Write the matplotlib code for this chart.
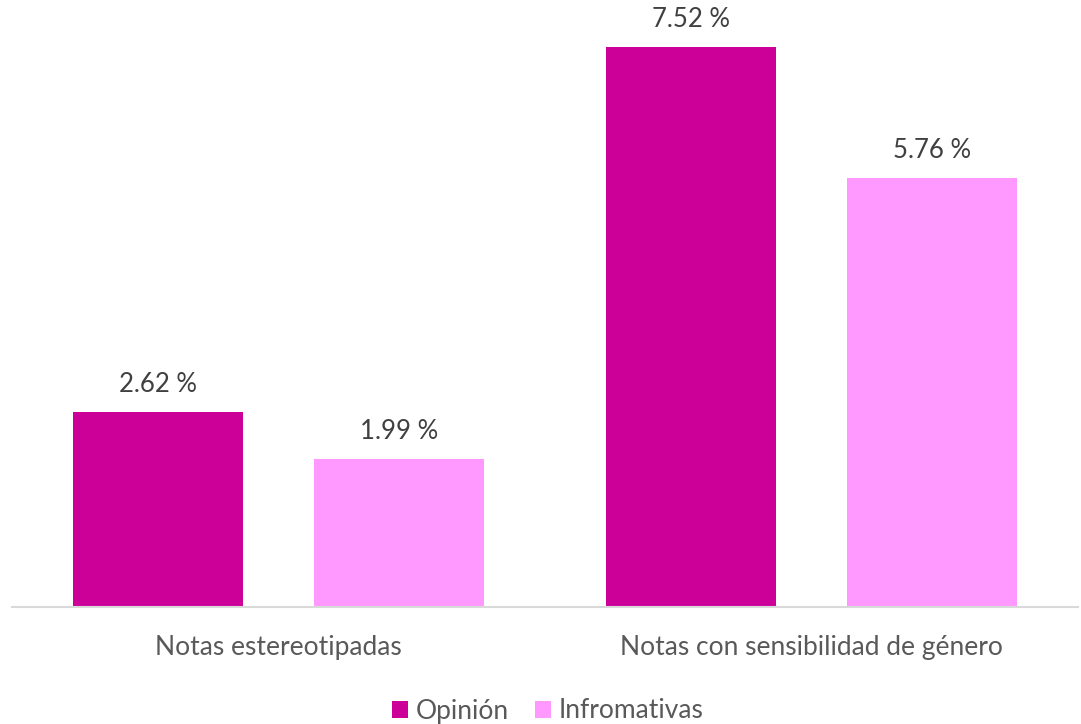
import matplotlib
matplotlib.use("Agg")
import matplotlib.pyplot as plt
import numpy as np

categories = ["Notas estereotipadas", "Notas con sensibilidad de género"]
series_names = ["Opinión", "Infromativas"]
opinion = [2.62, 7.52]
informativas = [1.99, 5.76]
colors = ["#CC0099", "#FF99FF"]

plt.rcParams['font.family'] = ['Lato', 'DejaVu Sans']

fig = plt.figure(figsize=(10.81, 7.24), dpi=100)
W, H = 1081, 724
ax = fig.add_axes([12 / W, 1 - 607 / H, (1078 - 12) / W, (607 - 5) / H])

x = np.arange(len(categories))
bw = 0.32
off = 0.226
vals = [opinion, informativas]
for i, (name, v) in enumerate(zip(series_names, vals)):
    pos = x + (-off if i == 0 else off)
    bars = ax.bar(pos, v, width=bw, color=colors[i], label=name, zorder=2)
    for b, val in zip(bars, v):
        ax.text(b.get_x() + b.get_width() / 2, val + 0.2, f"{val:.2f} %",
                ha="center", va="bottom", fontsize=18.5, color="#404040")

ax.set_xlim(-0.5, 1.5)
ax.set_ylim(0, 602 / 74.47)
ax.set_xticks(x)
ax.set_xticklabels(categories, fontsize=19, color="#595959")
ax.tick_params(axis="x", length=0, pad=20)
ax.set_yticks([])
for s in ["top", "right", "left"]:
    ax.spines[s].set_visible(False)
ax.spines["bottom"].set_color("#D9D9D9")
ax.spines["bottom"].set_linewidth(1.5)

leg = fig.legend(loc="center", bbox_to_anchor=(548 / W, 1 - 711 / H), ncol=2,
                 frameon=False, fontsize=19, handlelength=0.6, handleheight=0.6,
                 handletextpad=0.3, columnspacing=1.0)
for t in leg.get_texts():
    t.set_color("#595959")

fig.savefig("out.png", dpi=100)
